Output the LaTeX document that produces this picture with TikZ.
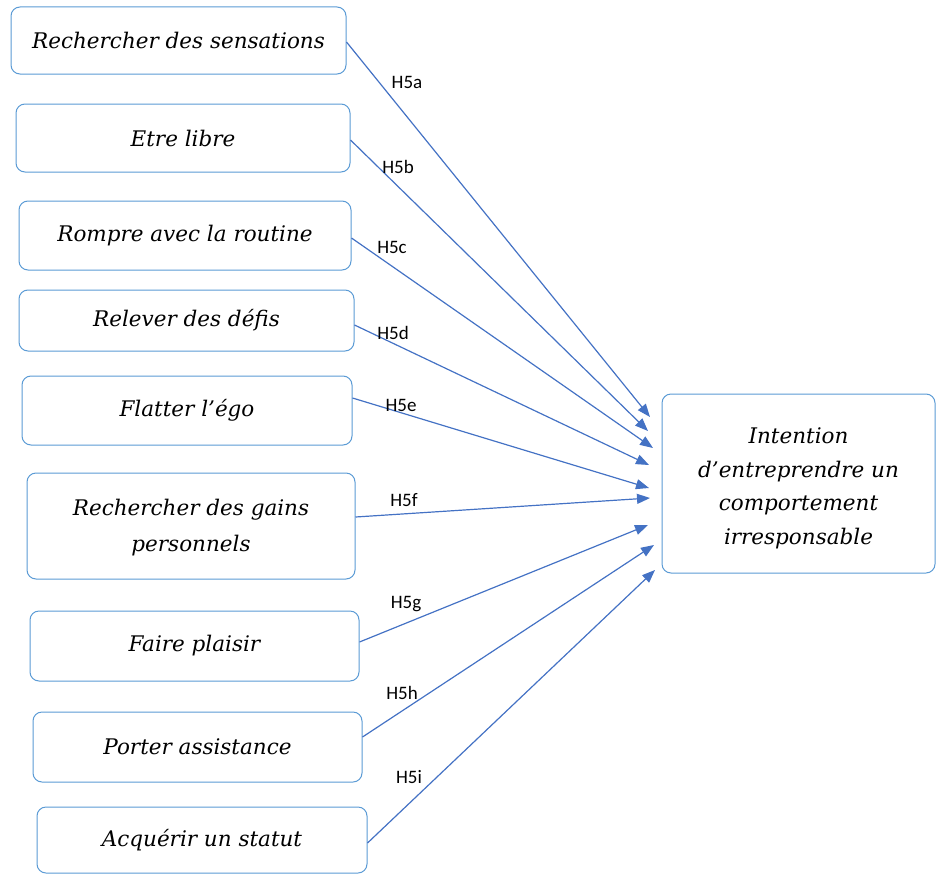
\documentclass[tikz,border=0pt]{standalone}
\usepackage{fontspec}
\setmainfont{DejaVu Serif}
\newfontfamily\labfont{Carlito}
\usetikzlibrary{arrows.meta}
\definecolor{boxblue}{RGB}{91,155,213}
\definecolor{arrblue}{RGB}{68,114,196}
\tikzset{
  box/.style={draw=boxblue, line width=1pt, rounded corners=9pt, fill=white, align=center,
    font=\fontsize{21.5}{36}\selectfont\itshape, inner sep=0pt},
  arr/.style={draw=arrblue, line width=1.2pt, -{Triangle[length=13pt,width=10pt]}},
  lab/.style={font=\labfont\fontsize{19}{22}\selectfont, inner sep=0pt}
}
\begin{document}
\begin{tikzpicture}[x=1pt,y=-1pt]
\useasboundingbox (0,0) rectangle (936,875);
\node[box, minimum width=335pt, minimum height=67pt] (a) at (178.5,40.5) {Rechercher des sensations};
\node[box, minimum width=334pt, minimum height=68pt] (b) at (183,138) {Etre libre};
\node[box, minimum width=332pt, minimum height=69pt] (c) at (185,235.5) {Rompre avec la routine};
\node[box, minimum width=335pt, minimum height=61pt] (d) at (186.5,320.5) {Relever des défis};
\node[box, minimum width=330pt, minimum height=69pt] (e) at (187,410.5) {Flatter l’égo};
\node[box, minimum width=328pt, minimum height=106pt] (f) at (191,526) {\rule{0pt}{20pt}Rechercher des gains\\personnels};
\node[box, minimum width=329pt, minimum height=70pt] (g) at (194.5,646) {Faire plaisir};
\node[box, minimum width=329pt, minimum height=70pt] (h) at (197.5,747) {Porter assistance};
\node[box, minimum width=330pt, minimum height=66pt] (i) at (202,840) {Acquérir un statut};
\node[box, minimum width=273pt, minimum height=179pt, font=\fontsize{21.5}{33.5}\selectfont\itshape] (t) at (798.5,483.5) {\rule{0pt}{25pt}Intention\\d’entreprendre un\\comportement\\irresponsable};
\coordinate (ta) at (650,417);
\coordinate (tb) at (648,431);
\coordinate (tc) at (653,448);
\coordinate (td) at (649,465);
\coordinate (te) at (649,488);
\coordinate (tf) at (650,498);
\coordinate (tg) at (648,525);
\coordinate (th) at (654,545);
\coordinate (ti) at (655,570);
\draw[arr] ([yshift=-1.5pt]a.east) -- (ta);
\draw[arr] ([yshift=-2pt]b.east) -- (tb);
\draw[arr] ([yshift=-2.5pt]c.east) -- (tc);
\draw[arr] ([yshift=-4.5pt]d.east) -- (td);
\draw[arr] ([yshift=12.5pt]e.east) -- (te);
\draw[arr] ([yshift=9pt]f.east) -- (tf);
\draw[arr] ([yshift=4pt]g.east) -- (tg);
\draw[arr] ([yshift=10pt]h.east) -- (th);
\draw[arr] ([yshift=-3pt]i.east) -- (ti);
\node[lab] (la) at (407,82) {H5a};
\node[lab] (lb) at (398,167) {H5b};
\node[lab] (lc) at (392,247) {H5c};
\node[lab] (ld) at (393,333) {H5d};
\node[lab] (le) at (401,405) {H5e};
\node[lab] (lf) at (404,500) {H5f};
\node[lab] (lg) at (406,604) {H5g};
\node[lab] (lh) at (402,693) {H5h};
\node[lab] (li) at (409,777) {H5i};
\end{tikzpicture}
\end{document}
